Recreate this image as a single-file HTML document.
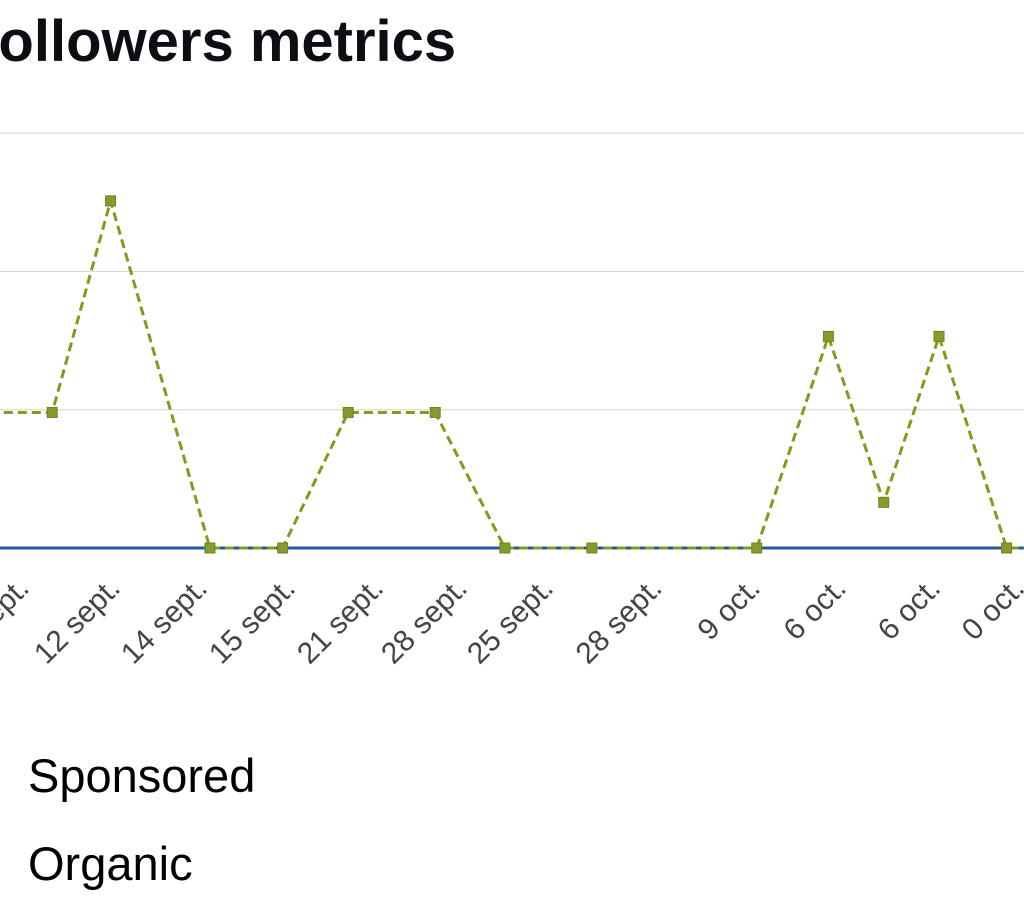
<!DOCTYPE html>
<html><head><meta charset="utf-8">
<style>
html,body{margin:0;padding:0;background:#fff;overflow:hidden;}
body{width:1024px;height:899px;position:relative;font-family:"Liberation Sans",sans-serif;}
</style></head>
<body>
<svg id="chart" width="1024" height="899" xmlns="http://www.w3.org/2000/svg" style="position:absolute;left:0;top:0">
<text x="-37" y="61" font-family="Liberation Sans, sans-serif" font-weight="bold" font-size="58" fill="#0b0f14">Followers metrics</text>
<g id="grid"></g>
<g id="xlabels"></g>
<g id="series"></g>
<text x="28" y="792" font-family="Liberation Sans, sans-serif" font-size="47" fill="#000">Sponsored</text>
<text x="28" y="880" font-family="Liberation Sans, sans-serif" font-size="47" fill="#000">Organic</text>
</svg>
<script>
const tickLabels=["12 sept.","12 sept.","14 sept.","15 sept.","21 sept.","28 sept.","25 sept.","28 sept.","9 oct.","6 oct.","6 oct.","0 oct."];
const tickPos=[2.8,11.7,20.2,28.8,37.4,45.6,54.0,64.6,74.2,82.6,91.8,100];
const sponsoredX=[-1,5.1,10.8,20.5,27.6,34.0,42.5,49.3,57.8,73.9,80.9,86.3,91.7,98.3,101];
const sponsoredY=[0.98,0.98,2.51,0,0,0.98,0.98,0,0,0,1.53,0.33,1.53,0,0];
const organicX=[-1,101];
const organicY=[0,0];
const yTicks=[0,1,2,3];
const NS="http://www.w3.org/2000/svg";
const xs=v=>v*10.24;
const ys=v=>548-v*138.3;
function mk(tag,attrs,parent){const e=document.createElementNS(NS,tag);for(const k in attrs)e.setAttribute(k,attrs[k]);parent.appendChild(e);return e;}
const grid=document.getElementById('grid');
yTicks.forEach(t=>{if(t===0)return;
 const l=mk('line',{x1:0,x2:1024,y1:ys(t),y2:ys(t),stroke:'#d4d4d4','stroke-width':1},grid);
 
 
});
const xl=document.getElementById('xlabels');
tickLabels.forEach((s,i)=>{
 const x=xs(tickPos[i])+2,y=590;
 const t=mk('text',{x:x,y:y,'text-anchor':'end',transform:`rotate(-45 ${x} ${y})`,'font-size':30,fill:'#444','font-family':'Liberation Sans, sans-serif'},xl);
 t.textContent=s;
 
 
});
const sg=document.getElementById('series');
const op=mk('polyline',{points:organicX.map((x,i)=>xs(x)+','+ys(organicY[i])).join(' '),fill:'none',stroke:'#2a55a0','stroke-width':3},sg);


const sp=mk('polyline',{points:sponsoredX.map((x,i)=>xs(x)+','+ys(sponsoredY[i])).join(' '),fill:'none',stroke:'#849a1a','stroke-width':3,'stroke-dasharray':'9,5'},sg);


sponsoredX.forEach((x,i)=>{
 if(i===0||i===sponsoredX.length-1)return;
 const r=mk('rect',{x:xs(x)-5,y:ys(sponsoredY[i])-5,width:10,height:10,fill:'#879a2e',stroke:'#6f8420','stroke-width':1},sg);
 
 
});
</script>
</body></html>
